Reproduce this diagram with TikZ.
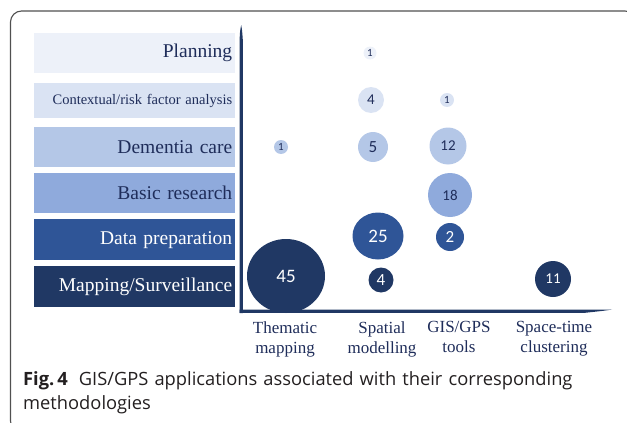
\documentclass[tikz,border=0pt]{standalone}
\usepackage{fontspec}
\usetikzlibrary{shapes.geometric}
\setmainfont{Liberation Serif}
\newfontfamily\numfont{Carlito}
\newfontfamily\capfont{Open Sans}
\definecolor{cA}{HTML}{EDF1F9}
\definecolor{cB}{HTML}{DAE3F3}
\definecolor{cC}{HTML}{B4C7E7}
\definecolor{cD}{HTML}{8FAADC}
\definecolor{cE}{HTML}{2F5597}
\definecolor{cF}{HTML}{203864}
\definecolor{ink}{HTML}{1F2D5A}
\definecolor{frame}{HTML}{505050}
\definecolor{captext}{HTML}{231F20}
\begin{document}
\begin{tikzpicture}[x=1pt,y=-1pt,
  rowbox/.style={draw=none,anchor=north west,minimum width=201pt,inner xsep=3pt,inner ysep=0pt,text width=195pt,align=right,font=\fontsize{19.5}{22}\selectfont},
  bub/.style={circle,inner sep=0pt,font=\numfont\fontsize{15}{16}\selectfont},
  collab/.style={align=center,text=ink,font=\fontsize{17}{20}\selectfont,anchor=north}]
\useasboundingbox (0,0) rectangle (627,423);
\clip (0,0) rectangle (627,423);
\draw[frame,line width=1.1pt,rounded corners=11pt] (10.5,11) rectangle (636,432);
% row boxes
\node[rowbox,fill=cA,text=ink,minimum width=199pt,minimum height=40pt] (rPlan) at (34,33) {Planning};
\node[rowbox,fill=cB,text=ink,minimum height=35pt,font=\fontsize{14.5}{16}\selectfont] (rCtx) at (34,83) {Contextual/risk factor analysis};
\node[rowbox,fill=cC,text=ink,minimum height=40pt] (rDem) at (34,127) {Dementia care};
\node[rowbox,fill=cD,text=ink,minimum height=40pt] (rBas) at (34,173) {Basic research};
\node[rowbox,fill=cE,text=white,minimum height=41pt] (rDat) at (34,219) {Data preparation};
\node[rowbox,fill=cF,text=white,minimum height=41pt] (rMap) at (34,266) {Mapping/Surveillance};
% axes
\fill[cF] (239.6,313) -- (239.6,40) .. controls (240,31) .. (241.2,25) .. controls (242.2,31) .. (242.8,40) -- (242.8,313) -- cycle;
\fill[cF] (239.6,309.6) -- (612,309.6) .. controls (602,311) .. (585,312.8) -- (239.6,312.8) -- cycle;
% bubbles
\node[bub,fill=cA,text=ink,minimum size=13pt,font=\numfont\fontsize{11}{12}\selectfont] (b11) at (370,53) {1};
\node[bub,fill=cB,text=ink,minimum size=26pt] (b21) at (371,100) {4};
\node[bub,fill=cB,text=ink,minimum size=14pt,font=\numfont\fontsize{11}{12}\selectfont] (b22) at (447,100) {1};
\node[bub,fill=cC,text=ink,minimum size=14pt,font=\numfont\fontsize{11}{12}\selectfont] (b30) at (281,147) {1};
\node[bub,fill=cC,text=ink,minimum size=30pt,font=\numfont\fontsize{17}{18}\selectfont] (b31) at (373,147) {5};
\node[bub,fill=cC,text=ink,minimum size=37pt] (b32) at (448,146) {12};
\node[bub,fill=cD,text=ink,minimum size=44pt] (b42) at (450,195) {18};
\node[ellipse,inner sep=0pt,minimum width=51pt,minimum height=47pt,fill=cE,text=white,font=\numfont\fontsize{19}{20}\selectfont] (b51) at (378,236) {25};
\node[bub,fill=cE,text=white,minimum size=28pt,font=\numfont\fontsize{17}{18}\selectfont] (b52) at (450,237) {2};
\node[ellipse,inner sep=0pt,minimum width=78pt,minimum height=74pt,fill=cF,text=white,font=\numfont\fontsize{19}{20}\selectfont] (b60) at (286,276) {45};
\node[bub,fill=cF,text=white,minimum size=25pt,font=\numfont\fontsize{17}{18}\selectfont] (b61) at (381,280) {4};
\node[bub,fill=cF,text=white,minimum size=36pt] (b63) at (553,279) {11};
% column labels
\node[collab] (cThem) at (285,318) {Thematic\\mapping};
\node[collab] (cSpat) at (382,318) {Spatial\\modelling};
\node[collab] (cGis) at (459,318) {GIS/GPS\\tools};
\node[collab] (cSpt) at (554,318) {Space-time\\clustering};
% caption
\node[anchor=north west,inner sep=0pt,align=left,text width=600pt,text=captext,font=\capfont\fontsize{18.3}{24}\selectfont] (cap) at (23,371) {\textbf{Fig.\,4}\hspace{0.6em}GIS/GPS applications associated with their corresponding\\methodologies};
\end{tikzpicture}
\end{document}
